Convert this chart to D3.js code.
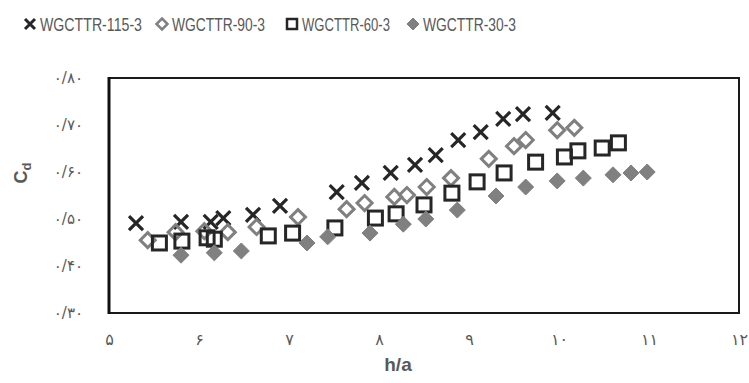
<!DOCTYPE html>
<html>
<head>
<meta charset="utf-8">
<script src="https://cdn.jsdelivr.net/npm/d3@7"></script>
<style>
  body { margin: 0; background: #fff; }
  text { font-family: "Liberation Sans Narrow", "Liberation Sans", sans-serif; }
</style>
</head>
<body>
<script>
// data (h/a , Cd)
var names = ["WGCTTR-115-3", "WGCTTR-90-3", "WGCTTR-60-3", "WGCTTR-30-3"];

var ha115 = [5.30, 5.80, 6.13, 6.27, 6.60, 6.90, 7.53, 7.81, 8.13, 8.40, 8.63, 8.88, 9.13, 9.38, 9.60, 9.93];
var cd115 = [0.491, 0.494, 0.494, 0.502, 0.509, 0.528, 0.557, 0.577, 0.598, 0.615, 0.636, 0.668, 0.685, 0.713, 0.723, 0.726];

var ha90 = [5.43, 5.74, 6.06, 6.32, 6.64, 7.10, 7.64, 7.84, 8.17, 8.31, 8.53, 8.80, 9.22, 9.50, 9.63, 9.98, 10.17];
var cd90 = [0.455, 0.472, 0.474, 0.472, 0.483, 0.504, 0.521, 0.534, 0.547, 0.551, 0.568, 0.587, 0.628, 0.655, 0.668, 0.689, 0.694];

var ha60 = [5.56, 5.81, 6.09, 6.17, 6.77, 7.04, 7.51, 7.96, 8.19, 8.50, 8.81, 9.09, 9.39, 9.74, 10.06, 10.21, 10.48, 10.66];
var cd60 = [0.449, 0.453, 0.460, 0.457, 0.464, 0.470, 0.481, 0.502, 0.511, 0.530, 0.555, 0.579, 0.598, 0.621, 0.632, 0.645, 0.651, 0.662];

var ha30 = [5.80, 6.17, 6.47, 7.20, 7.43, 7.90, 8.27, 8.52, 8.87, 9.30, 9.63, 9.98, 10.27, 10.60, 10.80, 10.98];
var cd30 = [0.423, 0.428, 0.432, 0.449, 0.462, 0.470, 0.489, 0.500, 0.519, 0.549, 0.568, 0.581, 0.587, 0.594, 0.598, 0.600];

var xTicks = [5, 6, 7, 8, 9, 10, 11, 12];
var xTickLabels = ["۵", "۶", "۷", "۸", "۹", "۱۰", "۱۱", "۱۲"];
var yTicks = [0.3, 0.4, 0.5, 0.6, 0.7, 0.8];
var yTickLabels = ["۰/۳۰", "۰/۴۰", "۰/۵۰", "۰/۶۰", "۰/۷۰", "۰/۸۰"];

var W = 749, H = 383;
var pL = 109, pR = 739, pT = 78, pB = 313;

var svg = d3.select("body").append("svg")
    .attr("width", W)
    .attr("height", H);

var x = d3.scaleLinear().domain([5, 12]).range([pL, pR]);
var y = d3.scaleLinear().domain([0.3, 0.8]).range([pB, pT]);

// frame
svg.append("rect")
    .attr("x", pL).attr("y", pT)
    .attr("width", pR - pL).attr("height", pB - pT)
    .attr("fill", "none").attr("stroke", "#1a1a1a").attr("stroke-width", 2);
svg.append("line")
    .attr("x1", pL).attr("x2", pL).attr("y1", pT - 1).attr("y2", pB + 1)
    .attr("stroke", "#111").attr("stroke-width", 3);

// axes (only labels shown)
var xAxis = svg.append("g")
    .attr("transform", "translate(0," + pB + ")")
    .call(d3.axisBottom(x).tickValues(xTicks).tickSize(0).tickPadding(0)
        .tickFormat(function(d, i){ return xTickLabels[i]; }));
xAxis.select(".domain").remove();
xAxis.selectAll("text")
    .attr("y", 32).attr("dy", 0)
    .attr("fill", "#595959")
    .style("font-family", "'DejaVu Sans', sans-serif")
    .attr("font-size", 16);

var yAxis = svg.append("g")
    .attr("transform", "translate(83,0)")
    .call(d3.axisLeft(y).tickValues(yTicks).tickSize(0).tickPadding(0)
        .tickFormat(function(d, i){ return yTickLabels[i]; }));
yAxis.select(".domain").remove();
yAxis.selectAll("text")
    .attr("fill", "#595959")
    .style("font-family", "'DejaVu Sans', sans-serif")
    .attr("font-size", 15);

// axis titles
svg.append("text")
    .attr("x", 398).attr("y", 371)
    .attr("text-anchor", "middle")
    .attr("font-weight", "bold")
    .attr("font-size", 19)
    .attr("fill", "#595959")
    .style("font-family", "'Liberation Sans', sans-serif")
    .text("h/a");

var yt = svg.append("text")
    .attr("transform", "translate(27,173) rotate(-90)")
    .attr("text-anchor", "middle")
    .attr("font-weight", "bold")
    .attr("font-size", 18)
    .attr("fill", "#595959")
    .style("font-family", "'Liberation Sans', sans-serif");
yt.append("tspan").text("C");
yt.append("tspan").attr("dy", 4).attr("font-size", 13).text("d");

// marker shapes
var dark = "#262626", grey = "#808080";

function drawX(g, cx, cy, s, w) {
    g.append("path")
        .attr("d", "M" + (cx - s) + "," + (cy - s) + "L" + (cx + s) + "," + (cy + s) +
                   "M" + (cx - s) + "," + (cy + s) + "L" + (cx + s) + "," + (cy - s))
        .attr("stroke", dark).attr("stroke-width", w).attr("fill", "none");
}
function drawSquare(g, cx, cy, s, w) {
    g.append("rect")
        .attr("x", cx - s).attr("y", cy - s).attr("width", 2 * s).attr("height", 2 * s)
        .attr("fill", "none").attr("stroke", dark).attr("stroke-width", w);
}
function drawDiamond(g, cx, cy, s, w, filled) {
    g.append("path")
        .attr("d", "M" + cx + "," + (cy - s) + "L" + (cx + s) + "," + cy + "L" + cx + "," + (cy + s) + "L" + (cx - s) + "," + cy + "Z")
        .attr("fill", filled ? grey : "none")
        .attr("stroke", grey).attr("stroke-width", w);
}

var plot = svg.append("g");

d3.range(ha115.length).forEach(function(i){
    drawX(plot, x(ha115[i]), y(cd115[i]), 7, 3.2);
});
d3.range(ha90.length).forEach(function(i){
    drawDiamond(plot, x(ha90[i]), y(cd90[i]), 7.5, 3, false);
});
d3.range(ha60.length).forEach(function(i){
    drawSquare(plot, x(ha60[i]), y(cd60[i]), 7, 3);
});
d3.range(ha30.length).forEach(function(i){
    drawDiamond(plot, x(ha30[i]), y(cd30[i]), 8, 1, true);
});

// legend
var legend = svg.append("g");
var legX = [30, 162, 292, 413];
var legW = [102, 93, 88, 93];
legX.forEach(function(lx, i){
    if (i == 0) drawX(legend, lx, 24, 5, 3);
    if (i == 1) drawDiamond(legend, lx, 24, 5.5, 2.5, false);
    if (i == 2) drawSquare(legend, lx, 24, 5, 2.5);
    if (i == 3) drawDiamond(legend, lx, 24, 6, 1, true);
    legend.append("text")
        .attr("x", lx + 10).attr("y", 31)
        .attr("font-size", 19)
        .attr("fill", "#595959")
        .attr("textLength", legW[i])
        .attr("lengthAdjust", "spacingAndGlyphs")
        .text(names[i]);
});
</script>
</body>
</html>
